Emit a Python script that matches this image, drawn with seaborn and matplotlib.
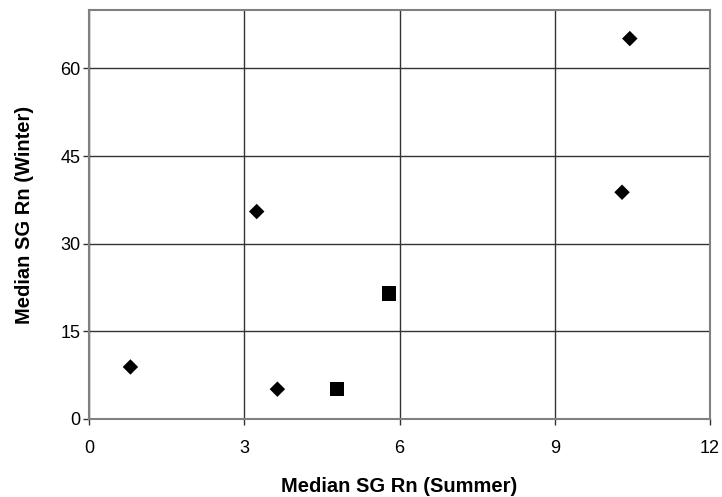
import pandas as pd
import matplotlib as mpl
import matplotlib.pyplot as plt
import seaborn as sns

# values
diamond_summer = [0.80, 3.64, 3.24, 10.45, 10.30]
diamond_winter = [8.9, 5.1, 35.5, 65.1, 38.8]
square_summer = [4.79, 5.80]
square_winter = [5.1, 21.5]

x_ticks = [0, 3, 6, 9, 12]
y_ticks = [0, 15, 30, 45, 60]

df = pd.DataFrame({
    'summer': diamond_summer + square_summer,
    'winter': diamond_winter + square_winter,
    'group': ['diamond'] * len(diamond_summer) + ['square'] * len(square_summer),
})

sns.set_style('white')
plt.rcParams['font.family'] = ['Liberation Sans', 'DejaVu Sans']
plt.rcParams['text.color'] = 'black'
plt.rcParams['xtick.color'] = 'black'
plt.rcParams['ytick.color'] = 'black'
plt.rcParams['axes.labelcolor'] = 'black'

fig = plt.figure(figsize=(7.22, 4.97), dpi=100)
ax = fig.add_axes([0.1233, 0.157, 0.8601, 0.823])

sns.scatterplot(data=df, x='summer', y='winter', style='group', hue='group',
                markers={'diamond': 'D', 'square': 's'},
                palette={'diamond': 'black', 'square': 'black'},
                size='group', sizes={'diamond': 62, 'square': 110},
                edgecolor='black', linewidth=0, legend=False, ax=ax, zorder=3)

ax.set_xlim(0, 12)
ax.set_ylim(0, 70)
ax.set_xticks(x_ticks)
ax.set_yticks(y_ticks)
ax.grid(True, color='#333333', linewidth=1)
ax.set_axisbelow(True)

for s in ax.spines.values():
    s.set_color('#808080')
    s.set_linewidth(1.5)

ax.tick_params(axis='both', which='major', direction='out', length=4.3, width=1,
               color='#333333', labelsize=13, left=True, bottom=True)
ax.tick_params(axis='y', pad=2)
ax.tick_params(axis='x', pad=10.5)

ax.set_xlabel('Median SG Rn (Summer)', fontsize=14.5, fontweight='bold', labelpad=15)
ax.set_ylabel('Median SG Rn (Winter)', fontsize=14.5, fontweight='bold', labelpad=19)

fig.savefig('out.png', dpi=100)
